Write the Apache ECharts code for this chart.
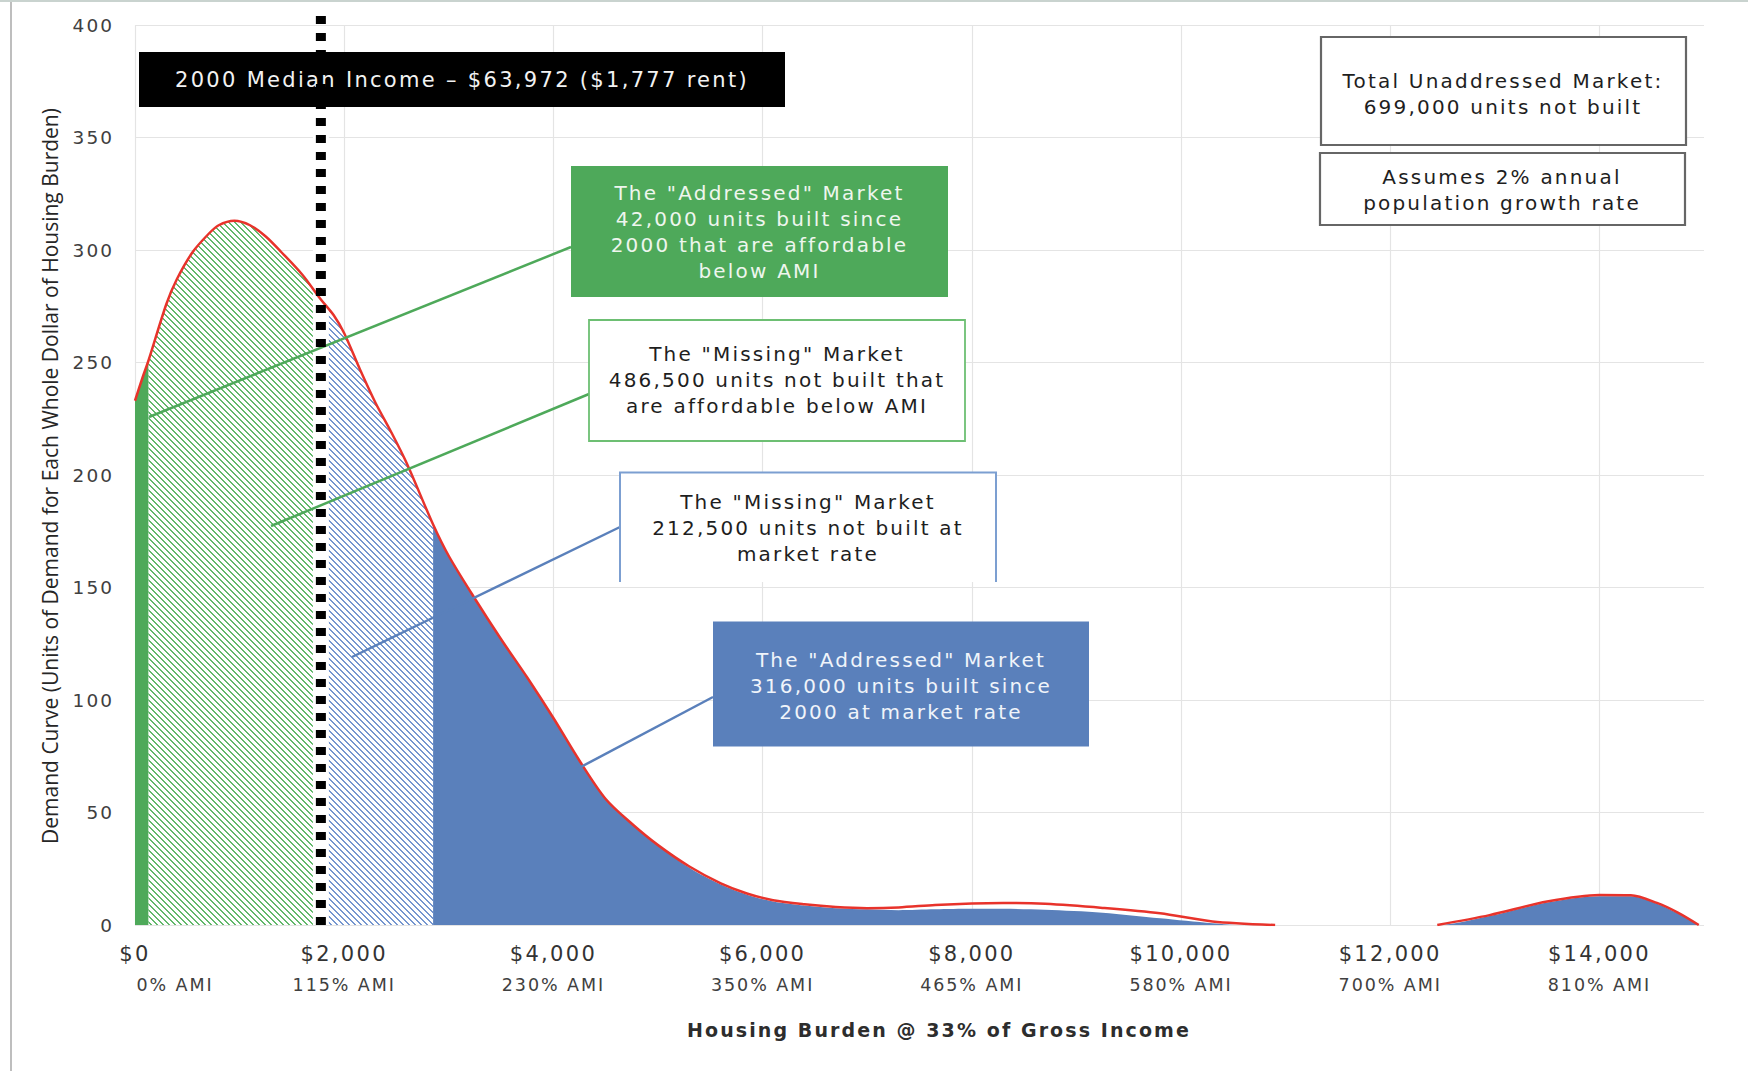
<!DOCTYPE html>
<html>
<head>
<meta charset="utf-8">
<title>Housing Demand Curve</title>
<style>
  html, body { margin: 0; padding: 0; background: #fff; }
  #chart { width: 1748px; height: 1071px; }
  /* the Gothic-style lettering of this chart is set wide */
  #chart text[style*="DejaVu"], #chart text[font-family*="DejaVu"] { letter-spacing: 0.11em; }
</style>
<script src="https://cdn.jsdelivr.net/npm/echarts@6/dist/echarts.min.js"></script>
</head>
<body>
<div id="chart"></div>
<script>
// Housing burden axis ticks with their AMI equivalents
const burdenTicks = [0, 2000, 4000, 6000, 8000, 10000, 12000, 14000];
const burdenLabels = ['$0', '$2,000', '$4,000', '$6,000', '$8,000', '$10,000', '$12,000', '$14,000'];
const amiLabels = ['0% AMI', '115% AMI', '230% AMI', '350% AMI', '465% AMI', '580% AMI', '700% AMI', '810% AMI'];

// Demand curve: [monthly housing burden ($), units of demand per whole dollar]
const demandCurve = [
  [0, 233], [70, 243], [130, 251], [300, 276], [400, 287], [550, 299], [700, 307],
  [800, 311], [950, 313], [1100, 311], [1250, 306], [1400, 299], [1600, 289], [1777, 278],
  [1900, 271], [2000, 263], [2150, 247], [2300, 232], [2450, 219], [2600, 205],
  [2850, 178], [3000, 164], [3250, 145], [3500, 127], [3750, 110], [4000, 92],
  [4250, 73], [4500, 56], [4750, 45], [5000, 35.5], [5300, 26], [5600, 18.5],
  [5850, 14], [6100, 11], [6400, 9.2], [6700, 8], [7000, 7.5], [7300, 7.8],
  [7650, 8.9], [8000, 9.6], [8300, 9.8], [8700, 9.4], [9250, 7.6], [9800, 5.2],
  [10300, 1.6], [10900, 0], [11600, '-'], [12450, 0], [12950, 4.4], [13500, 10.4],
  [14000, 13.3], [14300, 13.2], [14550, 9.8], [14750, 5.5], [14950, 0]
];

// Units built since 2000 at market rate
const builtMarketRate = [
  [2850, 178], [3000, 164], [3250, 145], [3500, 127], [3750, 110], [4000, 92],
  [4250, 73], [4500, 56], [4750, 45], [5000, 35.5], [5300, 25.5], [5600, 18],
  [5850, 13.5], [6100, 10.5], [6400, 8.7], [6700, 7.5], [7000, 7], [7300, 6.6],
  [7650, 7], [8000, 7.2], [8300, 7.2], [8700, 6.8], [9250, 5.5], [9800, 3],
  [10300, 0.8], [10600, 0], [12450, 0], [12950, 4], [13500, 10], [14000, 12.8],
  [14300, 12.8], [14550, 9.5], [14750, 5.2], [14950, 0]
];

// Market segment boundaries on the burden axis ($)
const affordableBuiltEnd = 130;
const medianRent = 1777;
const marketRateMissingEnd = 2850;
const medianLineTop = 404;

const GREEN = '#4ea95a';
const BLUE = '#5a80bb';
const RED = '#e8332b';
const FONT = '"DejaVu Sans"';

function segment(from, to) {
  return demandCurve.filter(function (p) { return p[0] >= from && p[0] <= to; });
}

// diagonal "\" hatch tile
function hatch(color) {
  const n = 6;
  const c = document.createElement('canvas');
  c.width = n; c.height = n;
  const ctx = c.getContext('2d');
  ctx.fillStyle = '#fff';
  ctx.fillRect(0, 0, n, n);
  ctx.fillStyle = color;
  for (let y = 0; y < n; y++) {
    for (let x = 0; x < n; x++) {
      const d = ((x - y) % n + n) % n;
      if (d < 2) ctx.fillRect(x, y, 1, 1);
    }
  }
  return { image: c, repeat: 'repeat', imageWidth: n, imageHeight: n };
}

function areaSeries(name, data, fill) {
  return {
    name: name,
    type: 'line',
    data: data,
    smooth: 0.3,
    symbol: 'none',
    lineStyle: { width: 0 },
    areaStyle: { color: fill, opacity: 1 },
    z: 1,
    silent: true
  };
}

function text(x, y, str, style, extra) {
  return Object.assign({
    type: 'text', x: x, y: y, z: 12, silent: true,
    style: Object.assign({
      text: str, font: '20px ' + FONT, fill: '#222',
      align: 'center', verticalAlign: 'middle', lineHeight: 26
    }, style || {})
  }, extra || {});
}

function line(x1, y1, x2, y2, color, width, z) {
  return {
    type: 'line', z: z == null ? 8 : z, silent: true,
    shape: { x1: x1, y1: y1, x2: x2, y2: y2 },
    style: { stroke: color, lineWidth: width }
  };
}

function box(x, y, w, h, fill, stroke, lw) {
  return {
    type: 'rect', z: 10, silent: true,
    shape: { x: x, y: y, width: w, height: h },
    style: { fill: fill, stroke: stroke || null, lineWidth: lw || 0 }
  };
}

const chart = echarts.init(document.getElementById('chart'), null, { renderer: 'svg', width: 1748, height: 1071 });

chart.setOption({
  animation: false,
  backgroundColor: '#fff',
  grid: { left: 135, right: 44, top: 25, bottom: 146, containLabel: false, outerBoundsMode: 'none' },
  xAxis: {
    type: 'value',
    min: 0,
    max: 15000,
    interval: 2000,
    axisLine: { show: false },
    axisTick: { show: false },
    splitLine: { show: true, showMaxLine: false, lineStyle: { color: '#e4e4e4', width: 1.2 } },
    axisLabel: {
      margin: 13,
      showMaxLabel: false,
      formatter: function (v) {
        const i = burdenTicks.indexOf(v);
        if (i < 0) return '';
        return '{d|' + burdenLabels[i] + '}\n{' + (i === 0 ? 'p0' : 'p') + '|' + amiLabels[i] + '}';
      },
      rich: {
        d: { fontFamily: 'DejaVu Sans', fontSize: 21, color: '#333', lineHeight: 31, align: 'center' },
        p: { fontFamily: 'DejaVu Sans', fontSize: 17.5, color: '#404040', lineHeight: 31, align: 'center' },
        p0: { fontFamily: 'DejaVu Sans', fontSize: 17.5, color: '#404040', lineHeight: 31, align: 'center', padding: [0, 0, 0, 80] }
      }
    }
  },
  yAxis: {
    type: 'value',
    min: 0,
    max: 400,
    interval: 50,
    axisLine: { show: false },
    axisTick: { show: false },
    splitLine: { show: true, lineStyle: { color: '#e4e4e4', width: 1.2 } },
    axisLabel: { margin: 21, fontFamily: 'DejaVu Sans', fontSize: 18.5, color: '#404040' }
  },
  series: [
    areaSeries('Built affordable below AMI', segment(0, affordableBuiltEnd), GREEN),
    areaSeries('Missing affordable below AMI', segment(affordableBuiltEnd, medianRent), hatch('#62b86b')),
    areaSeries('Missing at market rate', segment(medianRent, marketRateMissingEnd), hatch('#7596cf')),
    areaSeries('Built at market rate', builtMarketRate, BLUE),
    {
      name: 'Demand curve',
      type: 'line',
      data: demandCurve,
      smooth: 0.3,
      symbol: 'none',
      connectNulls: false,
      lineStyle: { color: RED, width: 2.5 },
      z: 3,
      silent: true
    },
    {
      // white band that sets the dotted median line off from the hatching
      name: 'Median band',
      type: 'line',
      data: [[medianRent, 0], [medianRent, 360]],
      symbol: 'none',
      lineStyle: { color: '#fff', width: 16 },
      z: 2,
      silent: true
    },
    {
      name: '2000 Median Income',
      type: 'line',
      data: [[medianRent, 0], [medianRent, medianLineTop]],
      symbol: 'none',
      clip: false,
      lineStyle: { color: '#000', width: 10, type: [8, 9], cap: 'butt' },
      z: 20,
      silent: true
    }
  ],
  graphic: [
    // frame
    line(11, 0, 11, 1071, '#a8a8a8', 1.5, 0),
    line(0, 1, 1748, 1, '#c9d3cf', 2, 0),

    // callout leaders
    line(571, 247, 149, 417, GREEN, 2.5),
    line(589, 394, 271, 526, GREEN, 2.5),
    line(620, 527, 352, 657, BLUE, 2.5),
    line(713, 697, 577, 769, BLUE, 2.5),

    // median income banner
    box(139, 52, 646, 55, '#000'),
    text(462, 80, '2000 Median Income \u2013 $63,972 ($1,777 rent)', { font: '21px ' + FONT, fill: '#f2f2f2' }),

    // addressed market, below AMI
    box(571, 166, 377, 131, GREEN),
    text(759.5, 232, 'The "Addressed" Market\n42,000 units built since\n2000 that are affordable\nbelow AMI', { fill: '#eef6ee' }),

    // missing market, below AMI
    box(589, 320, 376, 121, '#fff', '#6dbf73', 1.8),
    text(777, 380, 'The "Missing" Market\n486,500 units not built that\nare affordable below AMI', { fill: '#1e1e1e' }),

    // missing market, market rate (open at the bottom)
    box(620, 472, 376, 110, '#fff'),
    {
      type: 'polyline', z: 11, silent: true,
      shape: { points: [[620, 582], [620, 472.5], [996, 472.5], [996, 582]] },
      style: { stroke: '#7c9fd1', lineWidth: 2, fill: null }
    },
    text(808, 528, 'The "Missing" Market\n212,500 units not built at\nmarket rate', { fill: '#1e1e1e' }),

    // addressed market, market rate
    box(713, 621.5, 376, 125, BLUE),
    text(901, 685.5, 'The "Addressed" Market\n316,000 units built since\n2000 at market rate', { fill: '#f0f4fa' }),

    // totals
    box(1321, 37, 365, 108, '#fff', '#666', 2.2),
    text(1503, 93.5, 'Total Unaddressed Market:\n699,000 units not built', { fill: '#1e1e1e' }),
    box(1320, 153, 365, 72, '#fff', '#666', 2.2),
    text(1502, 190, 'Assumes 2% annual\npopulation growth rate', { fill: '#1e1e1e' }),

    // axis titles
    text(939, 1030, 'Housing Burden @ 33% of Gross Income', { font: 'bold 19px ' + FONT, fill: '#2d2d2d' }),
    text(50, 476, 'Demand Curve (Units of Demand for Each Whole Dollar of Housing Burden)',
      { font: '21px "Open Sans"', fill: '#262626' }, { rotation: Math.PI / 2 })
  ]
});
</script>
</body>
</html>
